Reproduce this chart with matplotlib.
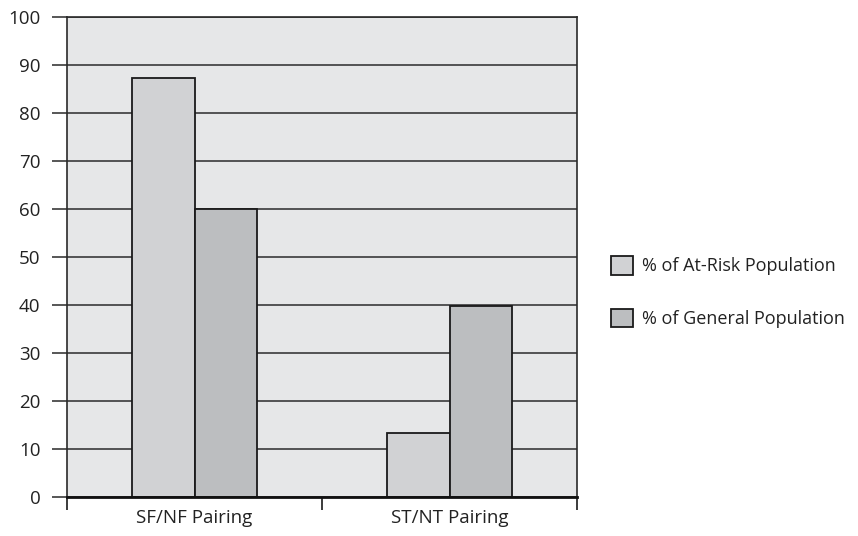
import matplotlib
matplotlib.use("Agg")
import matplotlib.pyplot as plt
import numpy as np

categories = ["SF/NF Pairing", "ST/NT Pairing"]
series_names = ["% of At-Risk Population", "% of General Population"]
at_risk = [87.3, 13.3]
general = [60.0, 39.8]
y_ticks = [0, 10, 20, 30, 40, 50, 60, 70, 80, 90, 100]

plt.rcParams['font.family'] = ['Open Sans', 'DejaVu Sans']

fig = plt.figure(figsize=(8.58, 5.36), dpi=100)
ax = fig.add_axes([0.0781, 0.0728, 0.5944, 0.8955])
ax.set_facecolor('#e6e7e8')

x = np.arange(len(categories))
w = 0.247
b1 = ax.bar(x - w/2, at_risk, w, color='#d1d2d4', edgecolor='#1a1a1a', linewidth=1.3, zorder=3)
b2 = ax.bar(x + w/2, general, w, color='#bcbec0', edgecolor='#1a1a1a', linewidth=1.3, zorder=3)

ax.set_xlim(-0.5, 1.5)
ax.set_ylim(0, 100)
ax.set_yticks(y_ticks)
ax.set_yticklabels([str(v) for v in y_ticks], fontsize=13.5, color='#222222')
ax.yaxis.grid(True, color='#3a3a3a', linewidth=1.2, zorder=1)
ax.set_axisbelow(True)
ax.tick_params(axis='y', length=11, width=1.2, color='#3a3a3a', pad=8)

ax.set_xticks([-0.5, 0.5, 1.5])
ax.set_xticklabels([])
ax.set_xticks(x, minor=True)
ax.set_xticklabels(categories, minor=True, fontsize=13.5, color='#222222')
ax.tick_params(axis='x', which='major', length=9.5, width=1.2, color='#1a1a1a')
ax.tick_params(axis='x', which='minor', length=0, pad=9)

for s in ['left', 'right', 'top']:
    ax.spines[s].set_color('#2a2a2a')
    ax.spines[s].set_linewidth(1.2)
ax.spines['bottom'].set_color('#111111')
ax.spines['bottom'].set_linewidth(2.0)
ax.spines['bottom'].set_zorder(4)

leg = fig.legend([b1, b2], series_names, loc='center left',
                 bbox_to_anchor=(0.693, 0.455), frameon=False,
                 fontsize=13, handlelength=1.2, handleheight=1.2,
                 labelspacing=1.85, handletextpad=0.5)
for t in leg.get_texts():
    t.set_color('#222222')

fig.savefig('out.png', dpi=100)
